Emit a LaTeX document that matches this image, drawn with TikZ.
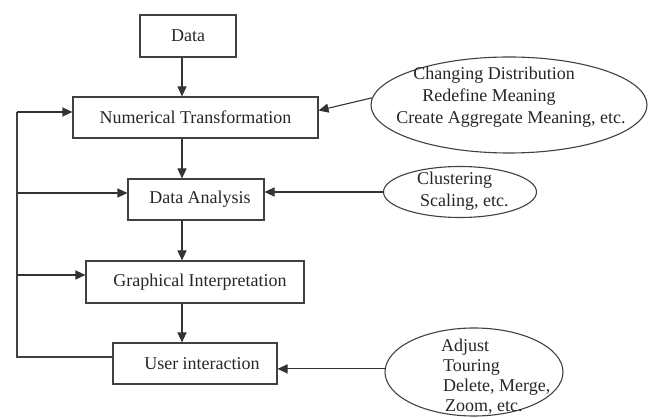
\documentclass[tikz,border=0pt]{standalone}
\usepackage{fontspec}
\setmainfont{Liberation Serif}
\usetikzlibrary{arrows.meta,shapes.geometric}
\begin{document}
\begin{tikzpicture}[x=1pt,y=-1pt,
  every node/.style={font=\fontsize{18}{21}\selectfont, text=black!85},
  box/.style={draw=black!75, line width=1.1pt, minimum height=41pt, inner sep=0pt},
  oval/.style={draw=black!75, line width=1.1pt, ellipse, inner sep=0pt},
  txt/.style={inner sep=0pt},
  arr/.style={draw=black!80, line width=1.1pt, -{Triangle[length=10pt,width=9pt]}},
  ln/.style={draw=black!75, line width=1.1pt}]
\useasboundingbox (0,0) rectangle (651,419);
% boxes
\node[box, minimum width=96pt, minimum height=42pt] (data) at (188,36) {Data};
\node[box, minimum width=245pt] (nt) at (195.5,117.5) {Numerical Transformation};
\node[box, minimum width=136pt] (da) at (196,199.5) {\hspace*{8pt}Data Analysis};
\node[box, minimum width=218pt, minimum height=42pt] (gi) at (195,282) {\hspace*{10pt}Graphical Interpretation};
\node[box, minimum width=164pt] (ui) at (195,363.5) {\hspace*{14pt}User interaction};
% ellipses
\node[oval, minimum width=276pt, minimum height=96pt] (e1) at (509,105) {};
\node[txt] (t11) at (494,75) {Changing Distribution};
\node[txt] (t12) at (489,97) {Redefine Meaning};
\node[txt] (t13) at (511,119) {Create Aggregate Meaning, etc.};
\node[oval, minimum width=153pt, minimum height=51pt] (e2) at (460,192) {};
\node[txt, anchor=west] (t21) at (417,180) {Clustering};
\node[txt, anchor=west] (t22) at (420,202) {Scaling, etc.};
\node[oval, minimum width=178pt, minimum height=88pt] (e3) at (474,372) {};
\node[txt, anchor=west] (t31) at (441,347) {Adjust};
\node[txt, anchor=west] (t32) at (443,367) {Touring};
\node[txt, anchor=west] (t33) at (443,387) {Delete, Merge,};
\node[txt, anchor=west] (t34) at (445,407) {Zoom, etc.};
% vertical arrows
\coordinate (ax) at (182,0);
\draw[arr] (data.south -| ax) -- (nt.north -| ax);
\draw[arr] (nt.south -| ax) -- (da.north -| ax);
\draw[arr] (da.south -| ax) -- (gi.north -| ax);
\draw[arr] (gi.south -| ax) -- (ui.north -| ax);
% feedback loop
\coordinate (lt) at (17,112);
\coordinate (lda) at (17,193);
\coordinate (lgi) at (17,275);
\coordinate (lb) at (17,357);
\draw[ln] (ui.west |- lb) -- (lb) -- (lt);
\draw[arr] (lt) -- (nt.west |- lt);
\draw[arr] (lda) -- (da.west |- lda);
\draw[arr] (lgi) -- (gi.west |- lgi);
% ellipse arrows
\draw[arr] (e1.177) -- ([yshift=7pt]nt.east);
\draw[arr] (e2.west) -- (da.east |- e2.west);
\draw[arr] (e3.178) -- (ui.east |- e3.178);
\end{tikzpicture}
\end{document}
